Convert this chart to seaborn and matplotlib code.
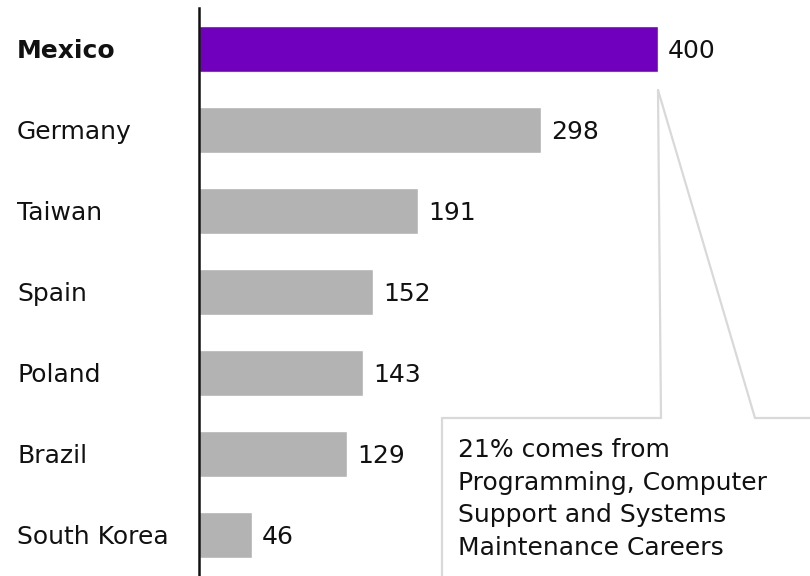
import matplotlib
matplotlib.use("Agg")
import matplotlib.pyplot as plt
import seaborn as sns
import pandas as pd

countries = ["Mexico", "Germany", "Taiwan", "Spain", "Poland", "Brazil", "South Korea"]
values = [400, 298, 191, 152, 143, 129, 46]
highlight = "Mexico"
note_lines = ["21% comes from", "Programming, Computer",
              "Support and Systems", "Maintenance Careers"]

PURPLE = "#7000bd"
GREY = "#b3b3b3"
LINE_GREY = "#d9d9d9"
INK = "#111111"
FS = 18

sns.set_theme(style="white")
plt.rcParams["font.family"] = ["DejaVu Sans"]

df = pd.DataFrame({"country": countries, "value": values})
palette = {c: (PURPLE if c == highlight else GREY) for c in countries}

fig = plt.figure(figsize=(8.1, 5.76), dpi=100)
ax = fig.add_axes([199 / 810, 0, 611 / 810, 568 / 576])

sns.barplot(data=df, x="value", y="country", hue="country", palette=palette,
            order=countries, width=0.568, legend=False, ax=ax, saturation=1)

# 1.1475 px per unit, bar pitch 81 px
ax.set_xlim(0, 611 / 1.1475)
ax.set_ylim(len(countries) - 0.494, -0.506)

for s in ["top", "right", "bottom"]:
    ax.spines[s].set_visible(False)
ax.spines["left"].set_color(INK)
ax.spines["left"].set_linewidth(1.8)
ax.set_xticks([])
ax.set_xlabel("")
ax.set_ylabel("")
ax.set_yticks(range(len(countries)))
ax.set_yticklabels([])
ax.tick_params(left=False)

# category labels, left aligned at the figure margin
for i, c in enumerate(countries):
    ax.annotate(c, xy=(0, i), xycoords=("axes fraction", "data"),
                xytext=(17 - 199, -9), textcoords="offset pixels",
                ha="left", va="baseline", fontsize=FS, color=INK,
                fontweight="bold" if c == highlight else "normal")

# value labels at the end of each bar
for i, v in enumerate(values):
    ax.annotate(f"{v}", xy=(v, i), xytext=(10, -9), textcoords="offset pixels",
                ha="left", va="baseline", fontsize=FS, color=INK)

# callout lines from the highlighted bar to the note box
px = lambda p: (p - 199) / 1.1475
py = lambda p: (p - 49) / 81
lw = 1.6
ax.plot([values[0], px(661)], [py(90), py(418)], color=LINE_GREY, lw=lw, clip_on=False)
ax.plot([values[0], px(755)], [py(90), py(418)], color=LINE_GREY, lw=lw, clip_on=False)
ax.plot([px(442), px(661)], [py(418), py(418)], color=LINE_GREY, lw=lw, clip_on=False)
ax.plot([px(755), px(812)], [py(418), py(418)], color=LINE_GREY, lw=lw, clip_on=False)
ax.plot([px(442), px(442)], [py(418), py(580)], color=LINE_GREY, lw=lw, clip_on=False)

for k, line in enumerate(note_lines):
    ax.text(px(458), py(457 + 32.7 * k), line, ha="left", va="baseline",
            fontsize=FS, color=INK)

fig.savefig("out.png", dpi=100)
